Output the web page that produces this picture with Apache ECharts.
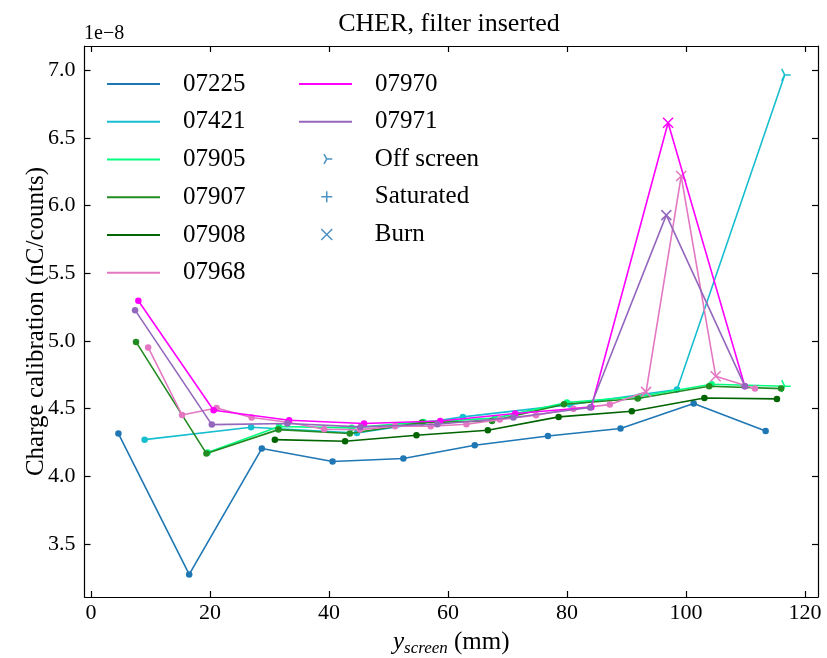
<!DOCTYPE html>
<html><head><meta charset="utf-8">
<script src="https://cdn.jsdelivr.net/npm/echarts@6/dist/echarts.min.js"></script>
<style>html,body{margin:0;padding:0;background:#fff}#c{width:827px;height:658px}</style>
</head><body><div id="c"></div>
<script>
// ---- data (values in units of 1e-8 nC/counts) ----
const xTicks = [0, 20, 40, 60, 80, 100, 120];
const yTicks = [3.5, 4.0, 4.5, 5.0, 5.5, 6.0, 6.5, 7.0];

const x07225 = [4.6, 16.5, 28.7, 40.6, 52.5, 64.5, 76.8, 89.0, 101.3, 113.4];
const y07225 = [4.316, 3.275, 4.205, 4.109, 4.131, 4.229, 4.298, 4.353, 4.538, 4.335];
const k07225 = ['o','o','o','o','o','o','o','o','o','o'];

const x07421 = [9.0, 26.9, 44.7, 62.5, 80.5, 98.5, 116.6];
const y07421 = [4.271, 4.362, 4.32, 4.439, 4.53, 4.641, 6.966];
const k07421 = ['o','o','o','o','o','o','>'];

const x07905 = [19.6, 31.6, 43.8, 55.9, 67.9, 80.0, 92.2, 104.3, 116.6];
const y07905 = [4.175, 4.368, 4.358, 4.402, 4.43, 4.545, 4.59, 4.68, 4.666];
const k07905 = ['o','o','o','o','o','o','o','o','>'];

const x07907 = [7.56, 19.4, 31.5, 43.5, 55.6, 67.4, 79.5, 91.9, 103.9, 116.0];
const y07907 = [4.993, 4.168, 4.345, 4.316, 4.397, 4.409, 4.532, 4.575, 4.666, 4.648];
const k07907 = ['o','o','o','o','o','o','o','o','o','o'];

const x07908 = [30.9, 42.7, 54.7, 66.7, 78.6, 90.9, 103.1, 115.3];
const y07908 = [4.271, 4.259, 4.303, 4.34, 4.439, 4.481, 4.579, 4.572];
const k07908 = ['o','o','o','o','o','o','o','o'];

const x07968 = [9.6, 15.3, 21.1, 27.0, 33.1, 39.2, 45.2, 51.1, 57.1, 63.1, 68.7, 74.8, 81.1, 87.2, 93.3, 99.2, 105.0, 111.6];
const y07968 = [4.952, 4.453, 4.505, 4.434, 4.40, 4.348, 4.345, 4.37, 4.37, 4.385, 4.419, 4.451, 4.50, 4.53, 4.624, 6.219, 4.74, 4.649];
const k07968 = ['o','o','o','o','o','o','o','o','o','o','o','o','o','o','x','x','x','o'];

const x07970 = [7.95, 20.6, 33.3, 45.9, 58.7, 71.3, 84.1, 97.0, 109.9];
const y07970 = [5.297, 4.488, 4.414, 4.39, 4.409, 4.464, 4.51, 6.613, 4.666];
const k07970 = ['o','o','o','o','o','o','o','x','o'];

const x07971 = [7.4, 20.3, 33.0, 45.3, 58.2, 71.0, 83.9, 96.7, 109.9];
const y07971 = [5.228, 4.382, 4.39, 4.365, 4.385, 4.434, 4.508, 5.93, 4.666];
const k07971 = ['o','o','o','o','o','o','o','x','o'];

const seriesNames = ['07225','07421','07905','07907','07908','07968','07970','07971'];
const markerNames = ['Off screen','Saturated','Burn'];

// ---- styles ----
const FONT = 'Liberation Serif';
const colors = {
  '07225':'#1f77b4','07421':'#17becf','07905':'#00ff7f','07907':'#228b22',
  '07908':'#006400','07968':'#e377c2','07970':'#ff00ff','07971':'#9467bd'
};
const BURN = 'path://M0,0L10,10M10,0L0,10';
const OFF = 'path://M5,5L10,5M5,5L2.5,0.67M5,5L2.5,9.33M0,5L0,5';
const SAT = 'path://M5,0L5,10M0,5L10,5';
const TRANSP = 'rgba(0,0,0,0)';

const table = {
  '07225':[x07225,y07225,k07225], '07421':[x07421,y07421,k07421],
  '07905':[x07905,y07905,k07905], '07907':[x07907,y07907,k07907],
  '07908':[x07908,y07908,k07908], '07968':[x07968,y07968,k07968],
  '07970':[x07970,y07970,k07970], '07971':[x07971,y07971,k07971]
};

function mkSeries(name, idx) {
  const [xs, ys, ks] = table[name];
  const c = colors[name];
  return {
    type:'line', name, z: 3 + idx, animation:false, silent:true,
    symbol:'circle', symbolSize:6.5, showAllSymbol:true,
    lineStyle:{color:c, width:1.6},
    itemStyle:{color:c, borderWidth:0},
    emphasis:{disabled:true},
    data: xs.map((x, i) => {
      const item = {value:[x, ys[i]]};
      if (ks[i] === 'x') {
        item.symbol = BURN; item.symbolSize = 10;
        item.itemStyle = {color:TRANSP, borderColor:c, borderWidth:1.5};
      } else if (ks[i] === '>') {
        item.symbol = OFF; item.symbolSize = 12;
        item.itemStyle = {color:TRANSP, borderColor:c, borderWidth:1.5};
      }
      return item;
    })
  };
}

const series = seriesNames.map(mkSeries);
const markerSyms = {'Off screen':OFF, 'Saturated':SAT, 'Burn':BURN};
markerNames.forEach(n => series.push({
  type:'scatter', name:n, data:[], symbol:markerSyms[n],
  itemStyle:{color:TRANSP, borderColor:'#1f77b4', borderWidth:1.5}
}));

const legendText = {fontFamily:FONT, fontSize:25, color:'#000', lineHeight:25, padding:[0,0,0,18]};
function lineLegend(names, left, top) {
  return {
    orient:'vertical', left, top, padding:0, itemGap:12.75, itemWidth:53, itemHeight:2.2,
    selectedMode:false, textStyle:legendText,
    data: names.map(n => ({name:n, icon:'rect', itemStyle:{color:colors[n]}}))
  };
}

const axisLineStyle = {color:'#000', width:1.2};
const tickStyle = {color:'#000', width:1.2};

const option = {
  animation:false,
  backgroundColor:'#fff',
  grid:{left:84.5, right:9, top:46, bottom:61, containLabel:false, outerBoundsMode:'none'},
  graphic:[
    {type:'text', x:449, y:24, style:{text:'CHER, filter inserted', textAlign:'center', textVerticalAlign:'middle', font:'26px "Liberation Serif"', fill:'#000'}},
    {type:'text', x:84, y:34, style:{text:'1e\u22128', textAlign:'left', textVerticalAlign:'middle', font:'20px "Liberation Serif"', fill:'#000'}}
  ],
  legend:[
    lineLegend(seriesNames.slice(0,6), 107, 71.5),
    lineLegend(seriesNames.slice(6), 299, 71.5),
    {
      orient:'vertical', left:320.5, top:146.5, padding:0, itemGap:12.75, itemWidth:11, itemHeight:11,
      selectedMode:false, textStyle:Object.assign({}, legendText, {padding:[0,0,0,37.5]}),
      data: markerNames.map(n => ({name:n, icon:markerSyms[n], itemStyle:{color:TRANSP, borderColor:'#1f77b4', borderWidth:1.5}}))
    }
  ],
  xAxis:[
    {type:'value', min:-1.1, max:122.2, position:'bottom',
     axisLine:{onZero:false, lineStyle:axisLineStyle},
     axisTick:{inside:true, length:6, customValues:xTicks, lineStyle:tickStyle},
     axisLabel:{customValues:xTicks, color:'#000', fontSize:22, fontFamily:FONT, margin:5, formatter:v => String(v)},
     splitLine:{show:false},
     name:'{y|y}{s|screen}{n| (mm)}', nameLocation:'middle', nameGap:30,
     nameTextStyle:{rich:{
       y:{fontFamily:FONT, fontSize:25, fontStyle:'italic', color:'#000', lineHeight:30, verticalAlign:'middle'},
       s:{fontFamily:FONT, fontSize:17, fontStyle:'italic', color:'#000', lineHeight:17, verticalAlign:'bottom'},
       n:{fontFamily:FONT, fontSize:25, color:'#000', lineHeight:30, verticalAlign:'middle'}
     }}},
    {type:'value', min:-1.1, max:122.2, position:'top',
     axisLine:{onZero:false, lineStyle:axisLineStyle},
     axisTick:{inside:true, length:6, customValues:xTicks, lineStyle:tickStyle},
     axisLabel:{show:false}, splitLine:{show:false}}
  ],
  yAxis:[
    {type:'value', min:3.108, max:7.18, position:'left',
     axisLine:{onZero:false, show:true, lineStyle:axisLineStyle},
     axisTick:{show:true, inside:true, length:6, customValues:yTicks, lineStyle:tickStyle},
     axisLabel:{customValues:yTicks, color:'#000', fontSize:22, fontFamily:FONT, margin:9, formatter:v => v.toFixed(1)},
     splitLine:{show:false},
     name:'Charge calibration (nC/counts)', nameLocation:'middle', nameGap:36, nameMoveOverlap:false,
     nameTextStyle:{fontFamily:FONT, fontSize:25, color:'#000'}},
    {type:'value', min:3.108, max:7.18, position:'right',
     axisLine:{onZero:false, show:true, lineStyle:axisLineStyle},
     axisTick:{show:true, inside:true, length:6, customValues:yTicks, lineStyle:tickStyle},
     axisLabel:{show:false}, splitLine:{show:false}}
  ],
  series
};

const chart = echarts.init(document.getElementById('c'), null, {renderer:'canvas'});
chart.setOption(option);
</script>
</body></html>
